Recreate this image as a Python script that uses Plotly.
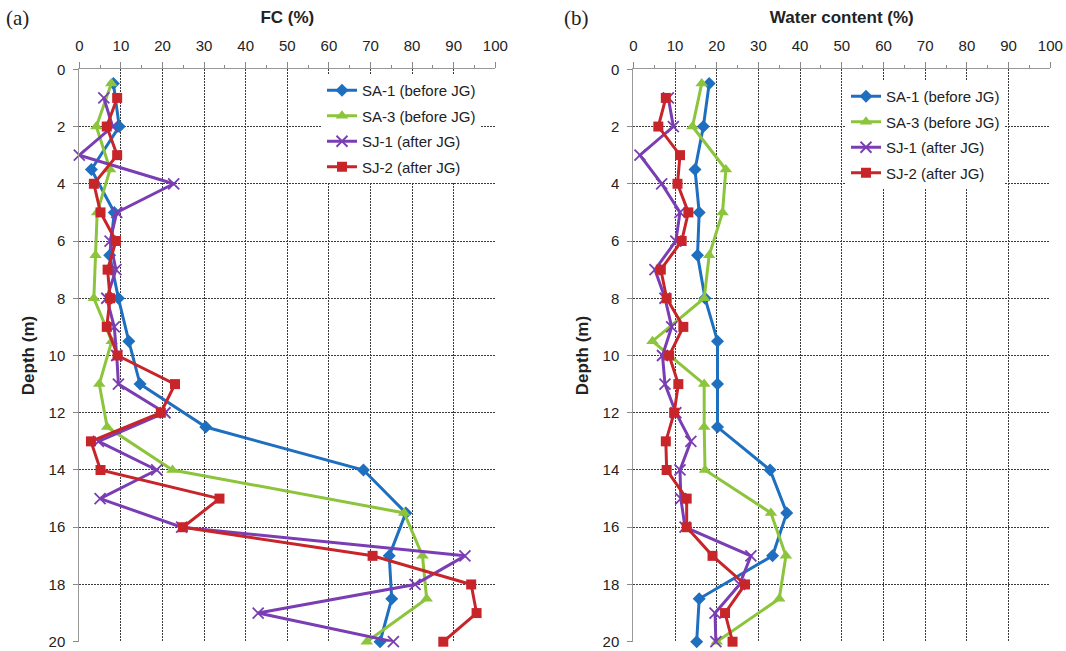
import plotly.graph_objects as go

# ---------------- data ----------------
depth_sa = [0.5, 2, 3.5, 5, 6.5, 8, 9.5, 11, 12.5, 14, 15.5, 17, 18.5, 20]
depth_sj = [1, 2, 3, 4, 5, 6, 7, 8, 9, 10, 11, 12, 13, 14, 15, 16, 17, 18, 19, 20]

fc_sa1 = [8.2, 9.6, 2.9, 8.4, 7.3, 9.4, 11.9, 14.6, 30.4, 68.3, 78.5, 74.5, 75.1, 72.3]
fc_sa3 = [7.7, 4.1, 7.4, 4.3, 3.9, 3.5, 7.8, 4.8, 6.7, 22.4, 78.1, 82.5, 83.5, 69.1]
fc_sj1 = [5.9, 8.0, 0.0, 22.7, 9.0, 7.4, 8.8, 6.6, 8.4, 9.0, 9.4, 20.6, 4.6, 18.6, 5.0, 24.6, 92.7, 80.7, 43.0, 75.5]
fc_sj2 = [9.1, 6.6, 9.1, 3.5, 5.1, 8.8, 6.8, 7.4, 6.6, 9.2, 23.0, 19.6, 2.8, 5.1, 33.7, 24.9, 70.5, 94.2, 95.5, 87.5]

wc_sa1 = [18.2, 16.8, 14.8, 15.8, 15.4, 17.2, 20.2, 20.2, 20.2, 32.8, 36.8, 33.4, 15.8, 15.2]
wc_sa3 = [16.4, 14.2, 22.2, 21.4, 18.2, 17.0, 4.6, 17.0, 17.0, 17.2, 33.0, 36.6, 35.0, 20.0]
wc_sj1 = [8.4, 9.6, 1.6, 6.8, 11.2, 10.2, 5.2, 7.6, 9.2, 7.0, 7.6, 10.2, 13.8, 11.2, 11.4, 12.4, 28.2, 25.5, 19.6, 19.8]
wc_sj2 = [7.8, 6.0, 11.2, 10.6, 13.2, 11.6, 6.6, 8.0, 12.0, 8.6, 10.8, 9.8, 7.8, 8.0, 12.8, 12.8, 19.0, 26.8, 22.0, 23.8]

names = ["SA-1 (before JG)", "SA-3 (before JG)", "SJ-1 (after JG)", "SJ-2 (after JG)"]
x_ticks = [0, 10, 20, 30, 40, 50, 60, 70, 80, 90, 100]
y_ticks = [0, 2, 4, 6, 8, 10, 12, 14, 16, 18, 20]

# ---------------- styles ----------------
colors = ["#1f6fc0", "#8cc43c", "#7a3db4", "#c8252b"]
markers = [
    dict(symbol="diamond", size=10),
    dict(symbol="triangle-up", size=11),
    dict(symbol="x-thin", size=11, line=dict(width=1.8, color=colors[2])),
    dict(symbol="square", size=10),
]
FONT = "Liberation Sans, Arial, sans-serif"
W, H = 1066, 651

fig = go.Figure()

series_left = [(fc_sa1, depth_sa), (fc_sa3, depth_sa), (fc_sj1, depth_sj), (fc_sj2, depth_sj)]
series_right = [(wc_sa1, depth_sa), (wc_sa3, depth_sa), (wc_sj1, depth_sj), (wc_sj2, depth_sj)]

for i, (xv, yv) in enumerate(series_left):
    m = dict(markers[i]); m["color"] = colors[i]
    fig.add_trace(go.Scatter(x=xv, y=yv, name=names[i], mode="lines+markers",
                             line=dict(color=colors[i], width=3), marker=m,
                             xaxis="x", yaxis="y", cliponaxis=False,
                             legend="legend", legendgroup="L%d" % i))
for i, (xv, yv) in enumerate(series_right):
    m = dict(markers[i]); m["color"] = colors[i]
    fig.add_trace(go.Scatter(x=xv, y=yv, name=names[i], mode="lines+markers",
                             line=dict(color=colors[i], width=3), marker=m,
                             xaxis="x2", yaxis="y2", cliponaxis=False,
                             legend="legend2", legendgroup="R%d" % i))

ydom = [1 - 641.7 / H, 1 - 69.3 / H]
xdom1 = [79.3 / W, 495.3 / W]
xdom2 = [633.3 / W, 1050.3 / W]


def xaxis(dom, anchor, title):
    return dict(domain=dom, anchor=anchor, side="top", range=[0, 100],
                tickvals=x_ticks, ticks="outside", ticklen=6, tickcolor="#888",
                ticklabelstandoff=5,
                showline=True, linecolor="#999", linewidth=1,
                showgrid=True, gridcolor="#3a3a3a", griddash="2px,1px", gridwidth=1,
                zeroline=False, automargin=False,
                minor=dict(dtick=5, ticks="outside", ticklen=3, tickcolor="#888", showgrid=False),
                tickfont=dict(family=FONT, size=15, color="#222"),
                title=dict(text="<b>%s</b>" % title, standoff=9,
                           font=dict(family=FONT, size=17, color="#222")))


def yaxis(anchor):
    return dict(domain=ydom, anchor=anchor, range=[20, 0],
                tickvals=y_ticks, ticks="outside", ticklen=5, tickcolor="#888",
                ticklabelstandoff=5,
                showline=True, linecolor="#999", linewidth=1,
                showgrid=True, gridcolor="#3a3a3a", griddash="2px,1px", gridwidth=1,
                zeroline=False, automargin=False,
                tickfont=dict(family=FONT, size=15, color="#222"),
                title=dict(text="<b>Depth (m)</b>", standoff=9,
                           font=dict(family=FONT, size=17, color="#222")))


leg_common = dict(bgcolor="white", borderwidth=0, traceorder="grouped", tracegroupgap=3,
                  font=dict(family=FONT, size=15, color="#222"),
                  xanchor="left", yanchor="top", itemwidth=30)

fig.update_layout(
    width=W, height=H,
    margin=dict(l=0, r=0, t=0, b=0),
    paper_bgcolor="white", plot_bgcolor="white",
    xaxis=xaxis(xdom1, "y", "FC (%)"),
    yaxis=yaxis("x"),
    xaxis2=xaxis(xdom2, "y2", "Water content (%)"),
    yaxis2=yaxis("x2"),
    legend=dict(x=322 / W, y=1 - 74 / H, **leg_common),
    legend2=dict(x=846 / W, y=1 - 80 / H, **leg_common),
    annotations=[
        dict(text="(a)", xref="paper", yref="paper", x=4 / W, y=1 - 4 / H,
             xanchor="left", yanchor="top", showarrow=False,
             font=dict(family="Liberation Serif, Times New Roman, serif", size=21, color="#222")),
        dict(text="(b)", xref="paper", yref="paper", x=562 / W, y=1 - 4 / H,
             xanchor="left", yanchor="top", showarrow=False,
             font=dict(family="Liberation Serif, Times New Roman, serif", size=21, color="#222")),
    ],
)

fig.write_html("out.html")
